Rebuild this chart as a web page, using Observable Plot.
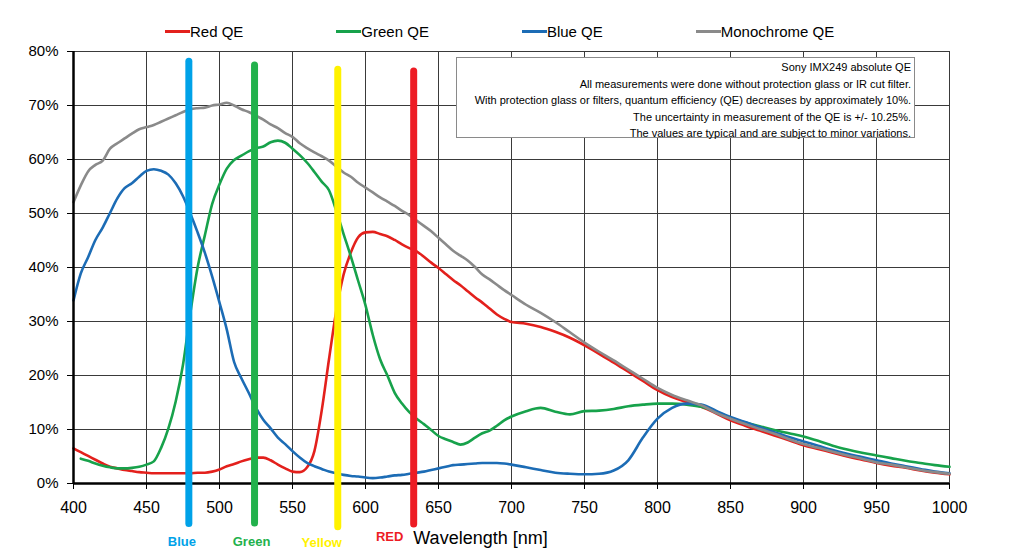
<!DOCTYPE html>
<html>
<head>
<meta charset="utf-8">
<script src="https://cdn.jsdelivr.net/npm/d3@7"></script>
<script src="https://cdn.jsdelivr.net/npm/@observablehq/plot@0.6"></script>
<style>
  html, body { margin: 0; padding: 0; background: #fff; }
  #wrap { position: relative; width: 1024px; height: 553px; font-family: "Liberation Sans", Arial, sans-serif; color: #000; overflow: hidden; }
  #legend { height: 44px; box-sizing: border-box; padding-top: 18px; padding-left: 165px; display: flex; align-items: center; gap: 93px; font-size: 15px; }
  .item { display: flex; align-items: center; white-space: nowrap; }
  .sw { width: 25px; height: 3px; display: inline-block; }
  #note { position: absolute; left: 456px; top: 57px; width: 459px; height: 81px; box-sizing: border-box; border: 1px solid #8a8a8a; background: #fff; text-align: right; font-size: 11px; line-height: 16.5px; padding: 1px 3px 0 0; }
  svg { display: block; }
</style>
</head>
<body>
<div id="wrap">
  <div id="legend"></div>
  <div id="note"></div>
</div>
<script>
// ---- data ----
const wavelengths = [
  400,405,410,415,420,425,430,435,440,445,
  450,455,460,465,470,475,480,485,490,495,
  500,505,510,515,520,525,530,535,540,545,
  550,555,560,565,570,575,580,585,590,595,
  600,605,610,615,620,625,630,635,640,645,
  650,655,660,665,670,675,680,685,690,695,
  700,
  710,720,730,740,750,760,770,780,790,800,
  810,820,830,840,850,860,870,880,890,900,
  910,920,930,940,950,960,970,980,990,1000
];
const redQE = [
  6.5,5.8,5.1,4.4,3.7,3.1,2.8,2.5,2.3,2.1,
  2.0,1.9,1.9,1.9,1.9,1.9,1.9,2.0,2.0,2.2,
  2.6,3.2,3.6,4.1,4.5,4.8,4.8,4.3,3.5,2.8,
  2.2,2.1,3.0,6.0,13.5,23.0,32.0,38.7,42.8,45.6,
  46.5,46.6,46.2,45.8,45.1,44.3,43.6,43.0,42.0,40.9,
  39.9,38.8,37.7,36.7,35.6,34.5,33.5,32.4,31.3,30.5,
  29.9,
  29.6,29.0,28.1,27.0,25.6,24.0,22.4,20.7,19.0,17.3,
  16.0,15.1,14.2,13.0,11.7,10.7,9.8,8.9,8.0,7.1,
  6.4,5.7,5.0,4.4,3.8,3.3,2.9,2.4,2.0,1.7
];
const greenQE = [
  null,4.6,4.2,3.7,3.3,3.0,2.8,2.8,2.9,3.1,
  3.5,4.1,6.6,10.2,15.2,22.0,31.5,40.0,46.0,51.8,
  55.4,58.3,59.9,60.7,61.5,62.1,62.4,63.2,63.5,63.1,
  62.0,60.8,59.4,57.7,55.9,54.3,50.5,46.2,42.0,37.5,
  33.0,27.5,23.0,20.0,16.8,14.8,13.2,12.0,11.0,9.9,
  8.8,8.2,7.7,7.2,7.6,8.5,9.3,9.8,10.7,11.7,
  12.4,
  13.4,14.0,13.3,12.8,13.4,13.5,13.8,14.3,14.6,14.8,
  14.8,14.6,14.2,13.3,12.2,11.3,10.6,9.9,9.3,8.7,
  7.9,7.0,6.3,5.7,5.2,4.7,4.2,3.8,3.4,3.1
];
const blueQE = [
  33.9,38.9,41.9,45.1,47.4,50.1,52.8,54.7,55.6,56.8,
  57.9,58.2,57.9,57.2,55.6,53.2,50.0,46.5,42.7,38.3,
  33.5,28.5,22.5,19.5,16.8,14.0,11.8,10.2,8.5,7.3,
  6.0,4.8,3.8,3.2,2.7,2.2,1.9,1.6,1.4,1.3,
  1.1,1.0,1.1,1.3,1.5,1.6,1.8,2.0,2.2,2.5,
  2.8,3.1,3.4,3.5,3.6,3.7,3.8,3.8,3.8,3.7,
  3.5,
  3.0,2.5,2.0,1.8,1.7,1.8,2.4,4.3,8.5,12.0,
  14.0,14.8,14.6,13.5,12.3,11.4,10.4,9.5,8.6,7.8,
  7.0,6.2,5.5,4.9,4.3,3.7,3.2,2.7,2.2,1.9
];
const monoQE = [
  52.1,55.2,57.8,59.0,59.8,62.0,63.0,63.9,64.8,65.6,
  66.0,66.4,67.0,67.6,68.2,68.8,69.3,69.5,69.6,70.0,
  70.2,70.5,70.0,69.3,68.8,68.1,67.4,66.5,65.8,64.9,
  64.2,63.0,62.1,61.3,60.6,59.8,58.7,57.6,56.8,55.7,
  54.8,53.9,53.0,52.2,51.4,50.5,49.7,48.7,47.7,46.7,
  45.5,44.3,43.1,42.2,41.3,40.1,38.7,37.8,36.8,35.8,
  34.9,
  33.1,31.6,29.9,28.0,26.1,24.4,22.8,21.1,19.4,17.7,
  16.4,15.4,14.5,13.1,12.0,11.0,10.1,9.2,8.2,7.3,
  6.6,5.9,5.2,4.6,3.9,3.5,3.0,2.5,2.1,1.8
];
const seriesNames = ["Red QE", "Green QE", "Blue QE", "Monochrome QE"];
const seriesColors = ["#e3201c", "#17a24b", "#1c6cb5", "#8a8a8a"];

const markerNames = ["Blue", "Green", "Yellow", "RED"];
const markerNm = [479, 524, 581, 633];
const markerTop = [78.1, 77.4, 76.6, 76.3];
const markerBottom = [-7.5, -7.4, -8.1, -7.6];
const markerColors = ["#00a2e8", "#22b14c", "#fff200", "#ed1c24"];

const xTicks = [400,450,500,550,600,650,700,750,800,850,900,950,1000];
const yTicks = [0,10,20,30,40,50,60,70,80];

const noteLines = [
  "Sony IMX249 absolute QE",
  "All measurements were done without protection glass or IR cut filter.",
  "With protection glass or filters, quantum efficiency (QE) decreases by approximately 10%.",
  "The uncertainty in measurement of the QE is +/- 10.25%.",
  "The values are typical and are subject to minor variations."
];
const axisTitle = "Wavelength [nm]";

// ---- build ----
const seriesValues = [redQE, greenQE, blueQE, monoQE];
const series = seriesNames.map((name, k) =>
  wavelengths.map((w, i) => ({name, w, v: seriesValues[k][i]}))
);
const markers = markerNames.map((name, i) => ({name, nm: markerNm[i], top: markerTop[i], bottom: markerBottom[i], color: markerColors[i]}));

// legend
const legend = document.getElementById("legend");
seriesNames.forEach((n, i) => {
  const it = document.createElement("div");
  it.className = "item";
  const sw = document.createElement("span");
  sw.className = "sw";
  sw.style.background = seriesColors[i];
  const tx = document.createElement("span");
  tx.textContent = n;
  it.appendChild(sw); it.appendChild(tx);
  legend.appendChild(it);
});

// note box
const note = document.getElementById("note");
noteLines.forEach(t => { const d = document.createElement("div"); d.textContent = t; note.appendChild(d); });

const labelOffsets = {Blue: [-7, 58], Green: [-3, 58], Yellow: [-16, 59], RED: [-24, 53]};

const chart = Plot.plot({
  width: 1024,
  height: 509,
  marginLeft: 73,
  marginRight: 75,
  marginTop: 7,
  marginBottom: 70,
  style: {fontFamily: "Liberation Sans, Arial, sans-serif", color: "#000", background: "transparent", overflow: "visible"},
  x: {domain: [400, 1000]},
  y: {domain: [0, 80]},
  marks: [
    Plot.gridX(xTicks, {stroke: "#3a3a3a", strokeOpacity: 1, strokeWidth: 1}),
    Plot.gridY(yTicks, {stroke: "#3a3a3a", strokeOpacity: 1, strokeWidth: 1}),
    ...series.map((s, k) => Plot.lineY(s, {
      x: "w", y: "v", stroke: seriesColors[k], strokeWidth: 2.6, curve: "monotone-x"
    })),
    Plot.ruleY([0], {stroke: "#000", strokeWidth: 2.5}),
    Plot.ruleX([400], {stroke: "#000", strokeWidth: 2.5}),
    Plot.axisX(xTicks, {tickSize: 6, tickPadding: 12, fontSize: 16, label: null, tickFormat: d => String(d)}),
    Plot.axisY(yTicks, {tickSize: 6, tickPadding: 9, fontSize: 15, label: null, tickFormat: d => d + "%"}),
    ...markers.map(m => Plot.ruleX([m], {x: "nm", y1: "top", y2: "bottom", stroke: m.color, strokeWidth: 7, strokeLinecap: "round"})),
    ...markers.map(m => Plot.text([m], {
      x: "nm", text: "name", fill: m.color, frameAnchor: "bottom",
      dx: labelOffsets[m.name][0], dy: labelOffsets[m.name][1],
      fontSize: 13, fontWeight: "bold", lineAnchor: "middle"
    })),
    Plot.text([axisTitle], {frameAnchor: "bottom", dx: -31, dy: 55, fontSize: 18, lineAnchor: "middle", fill: "#000"})
  ]
});
document.getElementById("wrap").insertBefore(chart, document.getElementById("note"));
</script>
</body>
</html>
